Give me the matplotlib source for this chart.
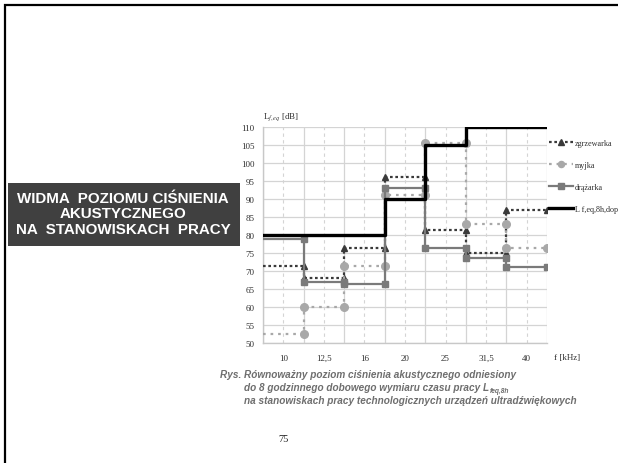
import numpy as np
import matplotlib
matplotlib.use("Agg")
import matplotlib.pyplot as plt
from matplotlib.patches import Rectangle

# frequency bands (kHz) and levels in dB
freq_labels = ["10", "12,5", "16", "20", "25", "31,5", "40"]
zgrzewarka = [71.5, 68, 76.5, 96, 81.5, 75, 87]
myjka = [52.5, 60, 71.5, 91, 105.5, 83, 76.5]
drazarka = [79, 67, 66.5, 93, 76.5, 73.5, 71]
limit_dop = [80, 80, 80, 90, 105, 110, 110]

series_names = ["zgrzewarka", "myjka", "drążarka", "L f,eq,8h,dop"]


def steps(vals):
    # each band drawn as a flat segment between its edges
    n = len(vals)
    xs = np.repeat(np.arange(n + 1), 2)[1:-1]
    ys = np.repeat(vals, 2)
    return xs, ys


W, H = 618, 464
fig = plt.figure(figsize=(W / 100, H / 100), dpi=100)
fig.patch.set_facecolor("white")

# slide frame
fig.patches.append(Rectangle((5 / W, -0.1), 1.2, 1 - 6 / H + 0.1, transform=fig.transFigure,
                             fill=False, edgecolor="black", linewidth=1.6))

ax = fig.add_axes([263 / W, 1 - 344 / H, 284 / W, 216 / H])
n = len(freq_labels)

styles = [
    dict(color="#3a3a3a", linestyle=(0, (1.2, 1.2)), linewidth=1.6, marker="^", markersize=5),
    dict(color="#a8a8a8", linestyle=(0, (1.2, 2.2)), linewidth=1.6, marker="o", markersize=5.5),
    dict(color="#7a7a7a", linestyle="-", linewidth=1.6, marker="s", markersize=5),
]
for vals, st, name in zip([zgrzewarka, myjka, drazarka], styles, series_names[:3]):
    xs, ys = steps(vals)
    ax.plot(xs, ys, label=name, markevery=list(range(1, len(xs))), zorder=3, **st)

xs, ys = steps(limit_dop)
ax.plot(xs, ys, color="black", linewidth=2.4, label=series_names[3], zorder=4)

ax.set_xlim(0, n)
ax.set_ylim(50, 110)
ax.set_yticks(np.arange(50, 111, 5))
ax.set_xticks(np.arange(0, n + 1))
ax.set_xticklabels([])
ax.set_xticks(np.arange(n) + 0.5, minor=True)
ax.set_xticklabels(freq_labels, minor=True)
ax.tick_params(axis="both", which="both", length=0, labelsize=6.5, colors="#303030")
ax.tick_params(axis="x", which="minor", pad=8)
ax.tick_params(axis="y", pad=6)
for lab in ax.get_xticklabels(minor=True) + ax.get_yticklabels():
    lab.set_family("Liberation Serif")

ax.grid(True, which="major", color="#d4d4d4", linewidth=0.9)
ax.grid(True, which="minor", axis="x", color="#d4d4d4", linewidth=0.8, linestyle=(0, (3, 3)))
ax.set_axisbelow(True)
for s in ["top", "right"]:
    ax.spines[s].set_visible(False)
for s in ["left", "bottom"]:
    ax.spines[s].set_color("#c8c8c8")
    ax.spines[s].set_linewidth(1.0)

ax.text(0, 1.025, r"L$_{f,eq}$ [dB]", transform=ax.transAxes, fontsize=6.5,
        family="Liberation Serif", math_fontfamily="stix", color="#303030", va="bottom", ha="left")
ax.text(1.025, -0.045, "f [kHz]", transform=ax.transAxes, fontsize=6.5,
        family="Liberation Serif", color="#303030", va="top", ha="left")

leg = ax.legend(loc="upper left", bbox_to_anchor=(0.995, 0.96), frameon=False,
                prop={"family": "Liberation Serif", "size": 5.9}, handlelength=3.0,
                handletextpad=0.15, labelspacing=1.7, borderaxespad=0, markerscale=0.8)
for t in leg.get_texts():
    t.set_color("#303030")

# title box on the left
fig.patches.append(Rectangle((8 / W, 1 - 247 / H), 232 / W, 63 / H, transform=fig.transFigure,
                             facecolor="#404040", edgecolor="none"))
fig.text(123 / W, 1 - 214.5 / H, "WIDMA  POZIOMU CIŚNIENIA\nAKUSTYCZNEGO\nNA  STANOWISKACH  PRACY",
         ha="center", va="center", color="white", fontsize=10.9, fontweight="bold",
         family="Liberation Sans", linespacing=1.1)

cap_kw = dict(color="#6e6e6e", fontsize=7.2, fontweight="bold", fontstyle="italic",
              family="Liberation Sans", ha="left", va="baseline")
fig.text(220 / W, 1 - 378 / H, "Rys. Równoważny poziom ciśnienia akustycznego odniesiony", **cap_kw)
line2 = fig.text(244 / W, 1 - 391 / H, "do 8 godzinnego dobowego wymiaru czasu pracy L", **cap_kw)
fig.text(244 / W, 1 - 404 / H, "na stanowiskach pracy technologicznych urządzeń ultradźwiękowych", **cap_kw)

# subscript after "L"
fig.canvas.draw()
bb = line2.get_window_extent()
sub_kw = dict(cap_kw, fontsize=4.8)
fig.text((bb.x1 + 0.5) / W, 1 - 393 / H, "feq,8h", **sub_kw)

fig.text(284 / W, 1 - 440 / H, "75", ha="center", va="center", fontsize=7.5,
         family="Liberation Serif", color="#202020")

fig.savefig("out.png", dpi=100)
